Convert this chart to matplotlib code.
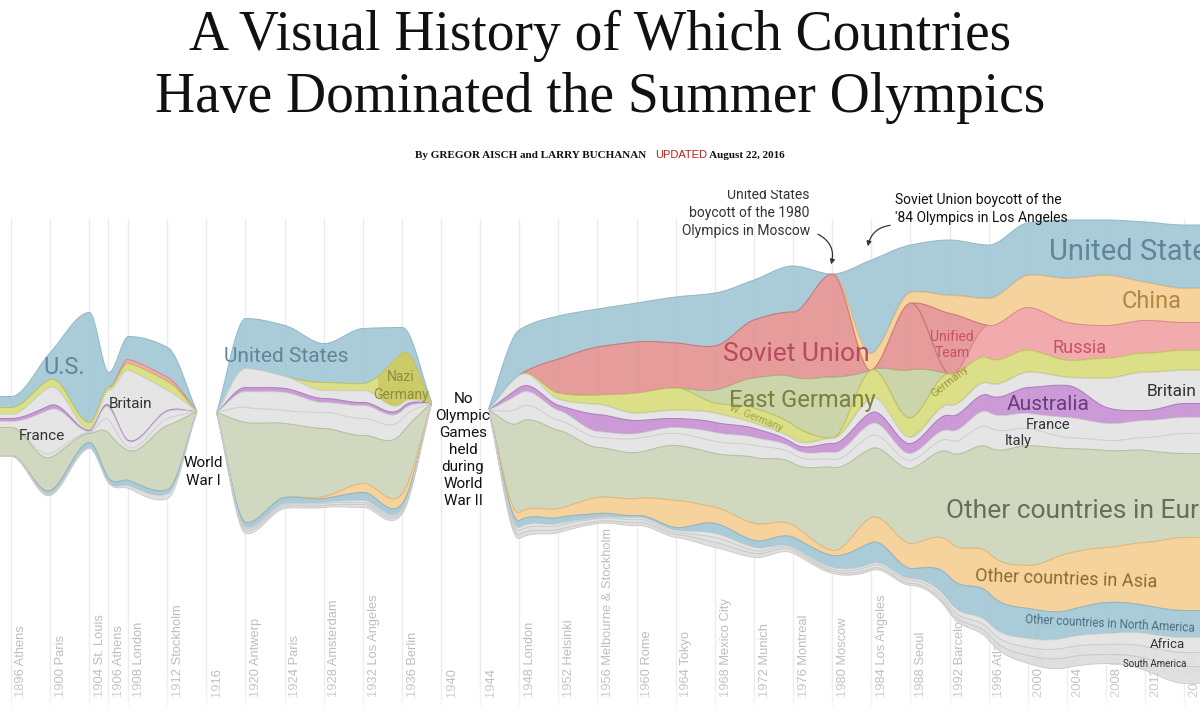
import numpy as np
import matplotlib
matplotlib.use("Agg")
import matplotlib.pyplot as plt
import matplotlib.font_manager as fm
from matplotlib.transforms import Bbox, TransformedBbox

# ---- data: medal-share thickness per layer, one value per games (pinches = no games) ----
YEARS = [1896, 1900, 1904, 1906, 1908, 1912, 1915, 1917,
         1920, 1924, 1928, 1932, 1936, 1939, 1944.8,
         1948, 1952, 1956, 1960, 1964, 1968, 1972, 1976, 1980, 1984, 1988,
         1992, 1996, 2000, 2004, 2008, 2012, 2016]

# streamgraph offset (top edge of the stream) for each entry above
STREAM_TOP = [396, 352, 312, 372, 336, 347, 411, 412,
              318, 325, 343, 328, 327, 402, 410,
              330, 316, 309, 303, 297, 293, 280, 266, 274, 260, 245,
              240, 245, 223, 220, 220, 222, 225]

us = [11, 27, 110, 15, 23, 30, 0, 0,
      50, 51, 39, 55, 26, 0, 0,
      45, 43, 38, 39, 46, 53, 40, 46, 0, 93, 47, 55, 53, 52, 58, 55, 60, 63]
china = [0] * 24 + [17, 11, 18, 27, 32, 44, 50, 38, 34]
unified_team = [0] * 26 + [61, 0, 0, 0, 0, 0, 0]
soviet_union = [0] * 16 + [34, 48, 51, 45, 44, 58, 65, 103, 0, 67, 0, 0, 0, 0, 0, 0, 0]
russia = [0, 0, 0, 0, 4, 4, 0, 0] + [0] * 19 + [33, 43, 38, 33, 33, 28]
east_germany = [0] * 20 + [13, 30, 48, 61, 0, 48, 0, 0, 0, 0, 0, 0, 0]
germany = [7, 8, 7, 3, 7, 9, 0, 0,
           0, 0, 8, 7, 50, 0, 0,
           0, 6, 9, 20, 22, 10, 15, 14, 0, 28, 19, 31, 25, 22, 17, 20, 19, 20]
britain = [4, 18, 1, 15, 70, 20, 0, 0,
           19, 12, 8, 12, 4, 0, 0,
           12, 6, 10, 7, 8, 9, 5, 4, 5, 14, 6, 10, 12, 15, 8, 29, 38, 33]
australia = [3, 4, 1, 2, 1, 1, 0, 0,
             4, 4, 4, 3, 3, 0, 0,
             6, 5, 17, 13, 9, 10, 9, 5, 9, 11, 10, 15, 17, 26, 32, 16, 10, 14]
france = [6, 44, 1, 13, 6, 7, 0, 0,
          16, 18, 10, 13, 8, 0, 0,
          14, 10, 6, 5, 6, 9, 8, 6, 7, 12, 7, 10, 15, 15, 20, 17, 17, 16]
italy = [0, 4, 1, 13, 3, 7, 0, 0,
         15, 13, 16, 17, 14, 0, 0,
         15, 10, 10, 14, 12, 12, 12, 9, 8, 13, 8, 12, 20, 17, 11, 10, 13, 20]
other_europe = [28, 33, 9, 45, 30, 64, 0, 0,
                100, 74, 68, 48, 61, 0, 0,
                90, 78, 50, 46, 55, 54, 66, 62, 83, 69, 75, 90, 106, 120, 105, 97, 92, 84]
other_asia = [0, 0, 0, 0, 0, 0, 0, 0,
              0, 0, 2, 9, 10, 0, 0,
              8, 9, 16, 17, 27, 16, 17, 12, 5, 25, 25, 35, 40, 43, 57, 55, 63, 73]
other_north_america = [0, 3, 5, 4, 5, 4, 0, 0,
                       5, 6, 4, 8, 5, 0, 0,
                       7, 6, 4, 2, 3, 10, 7, 10, 12, 21, 10, 25, 30, 30, 27, 31, 28, 27]
africa = [0, 0, 0, 0, 0, 0, 0, 0,
          1, 1, 1, 2, 1, 0, 0,
          3, 2, 1, 2, 2, 4, 3, 1, 2, 2, 2, 4, 6, 9, 10, 11, 13, 15]
south_america = [0, 1, 0, 0, 0, 0, 0, 0,
                 2, 2, 2, 2, 2, 0, 0,
                 4, 4, 3, 3, 2, 5, 3, 2, 2, 3, 3, 4, 6, 8, 10, 10, 12, 14]
others = [1, 1, 1, 1, 3, 5, 0, 0,
          3, 2, 2, 3, 2, 0, 0,
          4, 3, 2, 3, 3, 5, 4, 3, 2, 2, 2, 3, 5, 8, 10, 9, 12, 17]

GAMES = [1896, 1900, 1904, 1906, 1908, 1912, 1916, 1920, 1924, 1928, 1932,
         1936, 1940, 1944, 1948, 1952, 1956, 1960, 1964, 1968, 1972, 1976,
         1980, 1984, 1988, 1992, 1996, 2000, 2004, 2008, 2012, 2016]
CITIES = ["Athens", "Paris", "St. Louis", "Athens", "London", "Stockholm", "",
          "Antwerp", "Paris", "Amsterdam", "Los Angeles", "Berlin", "", "",
          "London", "Helsinki", "Melbourne & Stockholm", "Rome", "Tokyo",
          "Mexico City", "Munich", "Montreal", "Moscow", "Los Angeles", "Seoul",
          "Barcelona", "Atlanta", "Sydney", "Athens", "Beijing", "London", "Rio"]

BLUE, ORANGE, RED, PINK = "#a4c7d5", "#f6cf96", "#e39593", "#f2a5a6"
EGREEN, YELLOW, GRAY, PURPLE, EUGREEN = "#c9d2a3", "#d9dd7f", "#e4e4e4", "#c793d4", "#cdd6ba"
layers = [
    (us, BLUE, "#8db5c6"), (china, ORANGE, "#e6b877"),
    (unified_team, RED, "#cc7275"), (soviet_union, RED, "#cc7275"),
    (russia, PINK, "#dd8590"), (east_germany, EGREEN, "#aab47c"),
    (germany, YELLOW, "#bfc35c"), (britain, GRAY, "#d0d0d0"),
    (australia, PURPLE, "#ad78bf"), (france, GRAY, "#d0d0d0"),
    (italy, GRAY, "#d0d0d0"), (other_europe, EUGREEN, "#b3bf9c"),
    (other_asia, ORANGE, "#e6b877"), (other_north_america, BLUE, "#8db5c6"),
    (africa, GRAY, "#d0d0d0"), (south_america, "#e0e0e0", "#cccccc"),
    (others, "#dddddd", "#cacaca"),
]


def pchip(x, y, xs):
    x = np.asarray(x, float)
    y = np.asarray(y, float)
    h = np.diff(x)
    d = np.diff(y) / h
    m = np.zeros_like(y)
    m[0], m[-1] = d[0], d[-1]
    for i in range(1, len(x) - 1):
        if d[i - 1] * d[i] > 0:
            w1 = 2 * h[i] + h[i - 1]
            w2 = h[i] + 2 * h[i - 1]
            m[i] = (w1 + w2) / (w1 / d[i - 1] + w2 / d[i])
    idx = np.clip(np.searchsorted(x, xs) - 1, 0, len(x) - 2)
    t = (xs - x[idx]) / h[idx]
    h00 = 2 * t**3 - 3 * t**2 + 1
    h10 = t**3 - 2 * t**2 + t
    h01 = -2 * t**3 + 3 * t**2
    h11 = t**3 - t**2
    return (h00 * y[idx] + h10 * h[idx] * m[idx]
            + h01 * y[idx + 1] + h11 * h[idx] * m[idx + 1])


avail = {f.name for f in fm.fontManager.ttflist}
SANS = "Liberation Sans Narrow" if "Liberation Sans Narrow" in avail else "Roboto"
SERIF = "Liberation Serif"

X0, PPY = 1894.906, 9.78          # year at left edge, pixels per year
XMAX = X0 + 1200 / PPY

fig = plt.figure(figsize=(12, 7.07), dpi=100)
ax = fig.add_axes([0, 0, 1, 1])
ax.set_xlim(X0, XMAX)
ax.set_ylim(707, 0)
ax.axis("off")

# grid lines and games labels
for yr, city in zip(GAMES, CITIES):
    ax.plot([yr, yr], [219, 707], color="#ececec", lw=1, zorder=0)
    ax.text(yr + 1.1, 697, f"{yr} {city}".strip(), rotation=90, ha="center",
            va="bottom", fontsize=9.3, color="#bdbdbd", family="Liberation Sans",
            zorder=1)

# split into eras (consecutive zero pinches = no games)
years = np.array(YEARS, float)
vals = np.array([l[0] for l in layers], float)
tops = np.array(STREAM_TOP, float)
total = vals.sum(axis=0)
eras, start = [], 0
for i in range(len(years) - 1):
    if total[i] == 0 and total[i + 1] == 0:
        eras.append((start, i + 1))
        start = i + 1
eras.append((start, len(years)))

for k, (a, b) in enumerate(eras):
    ex, ev, et = years[a:b], vals[:, a:b], tops[a:b]
    if k == 0:
        ex = np.r_[X0 - 0.5, ex]
        ev = np.c_[ev[:, :1], ev]
        et = np.r_[et[0], et]
    if k == len(eras) - 1:
        ex = np.r_[ex, XMAX + 0.5]
        ev = np.c_[ev, ev[:, -1:]]
        et = np.r_[et, et[-1]]
    xs = np.linspace(ex[0], ex[-1], 900)
    upper = pchip(ex, et, xs)
    for j, (_, col, edge) in enumerate(layers):
        th = np.clip(pchip(ex, ev[j], xs), 0, None)
        lower = upper + th
        mask = th > 0.05
        ax.fill_between(xs, upper, lower, where=mask, facecolor=col,
                        edgecolor=edge, lw=0.7, alpha=0.93, zorder=2)
        if j == 6 and k == 1:   # Nazi Germany highlight
            ax.fill_between(xs, upper, lower, where=mask & (xs > 1933.56),
                            facecolor="#c9c660", edgecolor="none", alpha=0.8,
                            zorder=2.1)
        upper = lower

# white fade at the bottom
grad = np.linspace(0, 1, 50)[:, None]
fade = np.zeros((50, 1, 4))
fade[..., :3] = 1
fade[..., 3] = grad ** 2 * 0.6
ax.imshow(fade, extent=[X0, XMAX, 707, 665], aspect="auto", zorder=3)

# stream labels
lab = dict(family=SANS, zorder=4, ha="center", va="center")
ax.text(1901.45, 368, "U.S.", fontsize=17, color="#5f8799", **lab)
ax.text(1908.3, 404, "Britain", fontsize=11, color="#333333", **lab)
ax.text(1899.2, 436, "France", fontsize=11, color="#333333", **lab)
ax.text(1915.66, 472, "World\nWar I", fontsize=11, color="#111111",
        linespacing=1.35, **lab)
ax.text(1924.15, 356, "United States", fontsize=15, color="#5f8799", **lab)
ax.text(1935.9, 386, "Nazi\nGermany", fontsize=10, color="#8e8c3c",
        linespacing=1.3, **lab)
ax.text(1942.25, 450, "No\nOlympic\nGames\nheld\nduring\nWorld\nWar II",
        fontsize=11, color="#111111", linespacing=1.28, **lab)
ax.text(1976.3, 354, "Soviet Union", fontsize=19, color="#b94a5e", **lab)
ax.text(1976.9, 401, "East Germany", fontsize=17, color="#7b803c", **lab)
ax.text(1972.2, 418, "W. Germany", fontsize=7.5, color="#a2a444", rotation=-22,
        **lab)
ax.text(1992.25, 345, "Unified\nTeam", fontsize=10, color="#c8506a",
        linespacing=1.2, **lab)
ax.text(1992.0, 381, "Germany", fontsize=8, color="#999a3a", rotation=38, **lab)
ax.text(2002.16, 252, "United States", fontsize=21, color="#5f8799",
        family=SANS, ha="left", va="center", zorder=4)
ax.text(2012.7, 302, "China", fontsize=17, color="#b08843", **lab)
ax.text(2005.3, 348, "Russia", fontsize=13, color="#c8506a", **lab)
ax.text(2014.7, 392, "Britain", fontsize=12.5, color="#333333", **lab)
ax.text(2002.06, 405, "Australia", fontsize=15, color="#6b3b82", **lab)
ax.text(2002.06, 425, "France", fontsize=10.5, color="#333333", **lab)
ax.text(1999.0, 441, "Italy", fontsize=10.5, color="#333333", **lab)
ax.text(1991.6, 511, "Other countries in Europe", fontsize=19, color="#666d5c",
        family=SANS, ha="left", va="center", zorder=4)
ax.text(2003.9, 579, "Other countries in Asia", fontsize=13, color="#8c6a34",
        rotation=-2, **lab)
ax.text(2008.4, 624, "Other countries in North America", fontsize=8.5,
        color="#4d6e82", rotation=-3, **lab)
ax.text(2014.3, 645, "Africa", fontsize=9.5, color="#333333", **lab)
ax.text(2013.0, 664, "South America", fontsize=7, color="#333333", **lab)

# boycott annotations
t1 = ax.text(1977.7, 238, "United States\nboycott of the 1980\nOlympics in Moscow",
             fontsize=10, color="#333333", family=SANS, ha="right", va="bottom",
             multialignment="right", linespacing=1.35, zorder=4)
t1.set_clip_box(TransformedBbox(Bbox([[1960, 190], [1990, 707]]), ax.transData))
t1.set_clip_on(True)
ax.annotate("", xy=(1979.8, 267), xytext=(1978.3, 233),
            arrowprops=dict(arrowstyle="-|>", color="#333333", lw=0.9,
                            mutation_scale=7,
                            connectionstyle="arc3,rad=-0.45"), zorder=4)
ax.text(1986.4, 209, "Soviet Union boycott of the\n'84 Olympics in Los Angeles",
        fontsize=10, color="#111111", family=SANS, ha="left", va="center",
        linespacing=1.4, zorder=4)
ax.annotate("", xy=(1983.6, 249), xytext=(1986.2, 225),
            arrowprops=dict(arrowstyle="-|>", color="#333333", lw=0.9,
                            mutation_scale=7,
                            connectionstyle="arc3,rad=0.4"), zorder=4)

# title and byline
fig.text(0.5, 1 - 50 / 707, "A Visual History of Which Countries", ha="center",
         va="baseline", family=SERIF, fontsize=40, color="#111111")
fig.text(0.5, 1 - 112 / 707, "Have Dominated the Summer Olympics", ha="center",
         va="baseline", family=SERIF, fontsize=40, color="#111111")

renderer = fig.canvas.get_renderer()
parts = [("By GREGOR AISCH and LARRY BUCHANAN", "bold", "#111111", SERIF),
         ("   ", "normal", "#111111", SERIF),
         ("UPDATED", "normal", "#b52025", "Liberation Sans"),
         (" August 22, 2016", "bold", "#111111", SERIF)]
pieces, width = [], 0
for s, w, c, f in parts:
    t = fig.text(0, 1 - 158 / 707, s, fontsize=8, weight=w, color=c, family=f,
                 va="baseline", ha="left")
    wpx = t.get_window_extent(renderer).width
    pieces.append((t, wpx))
    width += wpx
x = 600 - width / 2
for t, wpx in pieces:
    t.set_x(x / 1200)
    x += wpx

fig.savefig("out.png", dpi=100)
